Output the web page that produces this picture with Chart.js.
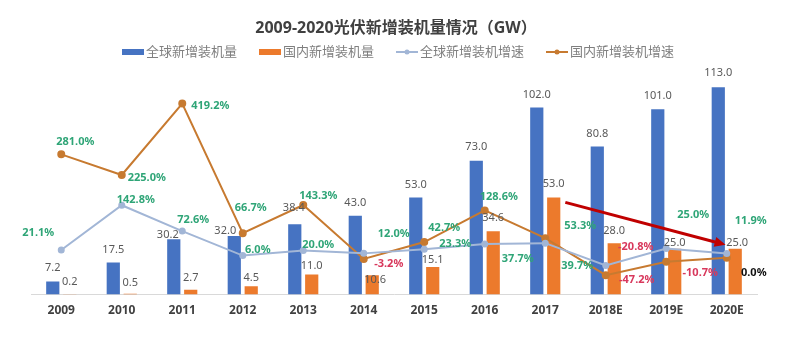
<!DOCTYPE html>
<html>
<head>
<meta charset="utf-8">
<script src="https://cdn.jsdelivr.net/npm/chart.js@4.4.0/dist/chart.umd.min.js"></script>
<style>
  html, body { margin: 0; padding: 0; background: #fff; }
  #wrap { width: 786px; height: 342px; }
</style>
</head>
<body>
<div id="wrap"><canvas id="pvChart" width="786" height="342"></canvas></div>
<script>
const chartTitle = '2009-2020光伏新增装机量情况（GW）';
const years = ['2009', '2010', '2011', '2012', '2013', '2014', '2015', '2016', '2017', '2018E', '2019E', '2020E'];
const globalAdded = [7.2, 17.5, 30.2, 32.0, 38.4, 43.0, 53.0, 73.0, 102.0, 80.8, 101.0, 113.0];
const domesticAdded = [0.2, 0.5, 2.7, 4.5, 11.0, 10.6, 15.1, 34.6, 53.0, 28.0, 25.0, 25.0];
const globalGrowth = [21.1, 142.8, 72.6, 6.0, 20.0, 12.0, 23.3, 37.7, 39.7, -20.8, 25.0, 11.9];
const domesticGrowth = [281.0, 225.0, 419.2, 66.7, 143.3, -3.2, 42.7, 128.6, 53.3, -47.2, -10.7, 0.0];

// label nudges [dx, dy] from each mark, so the labels don't pile up
const globalAddedPos = [[0,-14],[0,-13],[-6,-4],[-9,-5],[-1,-16],[0,-13],[0,-13],[0,-14],[0,-13],[0,-13],[0,-13],[0,-14]];
const domesticAddedPos = [[0,-12],[0,-11],[0,-12],[0,-8],[0,-9],[3,5],[0,-7],[0,-13],[0,-14],[0,-12],[0,-6],[2,-6]];
const globalGrowthPos = [[-23,-17],[14,-5],[11,-11],[15,-6],[15,-6],[30,-20],[31,-5],[33,15],[32,23],[30,-19],[27,-34],[24,-33]];
const domesticGrowthPos = [[14,-12],[25,3],[28,2],[8,-25],[15,-9],[25,5],[20,-14],[14,-14],[35,-12],[31,5],[34,11],[27,15]];

const FONT = '"Noto Sans", "Noto Sans CJK SC", sans-serif';
const BLUE = '#4673c2';
const ORANGE = '#ec7a2c';
const GLOBAL_LINE = '#a2b6d6';
const DOMESTIC_LINE = '#c77a30';

function growthColor(v) {
    if (v < 0) return '#d8385c';
    if (v === 0) return '#111111';
    return '#2fa577';
}

// title and legend drawn by hand so they sit tight above the plot
const header = {
    id: 'header',
    afterDraw(chart) {
        const ctx = chart.ctx;
        ctx.save();
        ctx.textBaseline = 'middle';
        ctx.textAlign = 'center';
        ctx.fillStyle = '#404040';
        ctx.font = 'bold 16px ' + FONT;
        ctx.fillText(chartTitle, 396, 28);

        ctx.font = '13px ' + FONT;
        ctx.textAlign = 'left';
        const iconW = 22, gap = 2, spacing = 22;
        const items = chart.data.datasets.map(ds => ({
            text: ds.label,
            type: ds.type || 'bar',
            color: ds.type === 'line' ? ds.borderColor : ds.backgroundColor,
            w: iconW + gap + ctx.measureText(ds.label).width
        }));
        const total = items.reduce((s, it) => s + it.w, 0) + spacing * (items.length - 1);
        let x = 398 - total / 2;
        const y = 52;
        items.forEach(it => {
            if (it.type === 'line') {
                ctx.strokeStyle = it.color;
                ctx.lineWidth = 2;
                ctx.beginPath();
                ctx.moveTo(x, y);
                ctx.lineTo(x + iconW, y);
                ctx.stroke();
                ctx.fillStyle = it.color;
                ctx.beginPath();
                ctx.arc(x + iconW / 2, y, 2.5, 0, Math.PI * 2);
                ctx.fill();
            } else {
                ctx.fillStyle = it.color;
                ctx.fillRect(x, y - 3, iconW, 6);
            }
            ctx.fillStyle = '#7f7f7f';
            ctx.fillText(it.text, x + iconW + gap, y);
            x += it.w + spacing;
        });
        ctx.restore();
    }
};

const valueLabels = {
    id: 'valueLabels',
    afterDatasetsDraw(chart) {
        const ctx = chart.ctx;
        ctx.save();
        ctx.textAlign = 'center';
        ctx.textBaseline = 'middle';

        ctx.font = '11px ' + FONT;
        ctx.fillStyle = '#595959';
        [[0, globalAddedPos], [1, domesticAddedPos]].forEach(([i, pos]) => {
            chart.getDatasetMeta(i).data.forEach((bar, j) => {
                const v = chart.data.datasets[i].data[j];
                ctx.fillText(v.toFixed(1), bar.x + pos[j][0], bar.y + pos[j][1]);
            });
        });

        ctx.font = 'bold 11px ' + FONT;
        [[2, globalGrowthPos], [3, domesticGrowthPos]].forEach(([i, pos]) => {
            chart.getDatasetMeta(i).data.forEach((pt, j) => {
                const v = chart.data.datasets[i].data[j];
                ctx.fillStyle = growthColor(v);
                ctx.fillText(v.toFixed(1) + '%', pt.x + pos[j][0], pt.y + pos[j][1]);
            });
        });

        // red trend arrow across the domestic bars, 2017 -> 2020E
        const bars = chart.getDatasetMeta(1).data;
        const a = bars[8], b = bars[11];
        const x1 = a.x + a.width / 2 + 5, y1 = a.y + 5;
        const x2 = b.x - b.width / 2 - 3, y2 = b.y - 4;
        const ang = Math.atan2(y2 - y1, x2 - x1);
        ctx.strokeStyle = '#c00000';
        ctx.fillStyle = '#c00000';
        ctx.lineWidth = 3;
        ctx.beginPath();
        ctx.moveTo(x1, y1);
        ctx.lineTo(x2 - 8 * Math.cos(ang), y2 - 8 * Math.sin(ang));
        ctx.stroke();
        ctx.beginPath();
        ctx.moveTo(x2, y2);
        ctx.lineTo(x2 - 11 * Math.cos(ang) + 5 * Math.sin(ang), y2 - 11 * Math.sin(ang) - 5 * Math.cos(ang));
        ctx.lineTo(x2 - 11 * Math.cos(ang) - 5 * Math.sin(ang), y2 - 11 * Math.sin(ang) + 5 * Math.cos(ang));
        ctx.closePath();
        ctx.fill();
        ctx.restore();
    }
};

const ctx = document.getElementById('pvChart').getContext('2d');
new Chart(ctx, {
    type: 'bar',
    data: {
        labels: years,
        datasets: [
            {
                label: '全球新增装机量',
                data: globalAdded,
                backgroundColor: BLUE,
                yAxisID: 'y',
                order: 1,
                categoryPercentage: 0.56,
                barPercentage: 0.78
            },
            {
                label: '国内新增装机量',
                data: domesticAdded,
                backgroundColor: ORANGE,
                yAxisID: 'y',
                order: 1,
                categoryPercentage: 0.56,
                barPercentage: 0.78
            },
            {
                type: 'line',
                label: '全球新增装机增速',
                data: globalGrowth,
                borderColor: GLOBAL_LINE,
                backgroundColor: GLOBAL_LINE,
                borderWidth: 2,
                pointRadius: 2.5,
                yAxisID: 'y2',
                order: 0
            },
            {
                type: 'line',
                label: '国内新增装机增速',
                data: domesticGrowth,
                borderColor: DOMESTIC_LINE,
                backgroundColor: DOMESTIC_LINE,
                borderWidth: 2,
                pointRadius: 3,
                yAxisID: 'y2',
                order: 0
            }
        ]
    },
    options: {
        responsive: false,
        animation: false,
        layout: { padding: { top: 80, left: 31, right: 29, bottom: 15 } },
        plugins: {
            legend: { display: false },
            title: { display: false },
            tooltip: { enabled: false }
        },
        scales: {
            x: {
                grid: { display: false, drawTicks: false },
                border: { display: true, color: '#d9d9d9' },
                ticks: {
                    padding: 9,
                    color: '#404040',
                    font: { family: FONT, size: 12, weight: 'bold' }
                }
            },
            y: { display: false, min: 0, max: 117 },
            y2: { display: false, min: -100, max: 483 }
        }
    },
    plugins: [header, valueLabels]
});
</script>
</body>
</html>
